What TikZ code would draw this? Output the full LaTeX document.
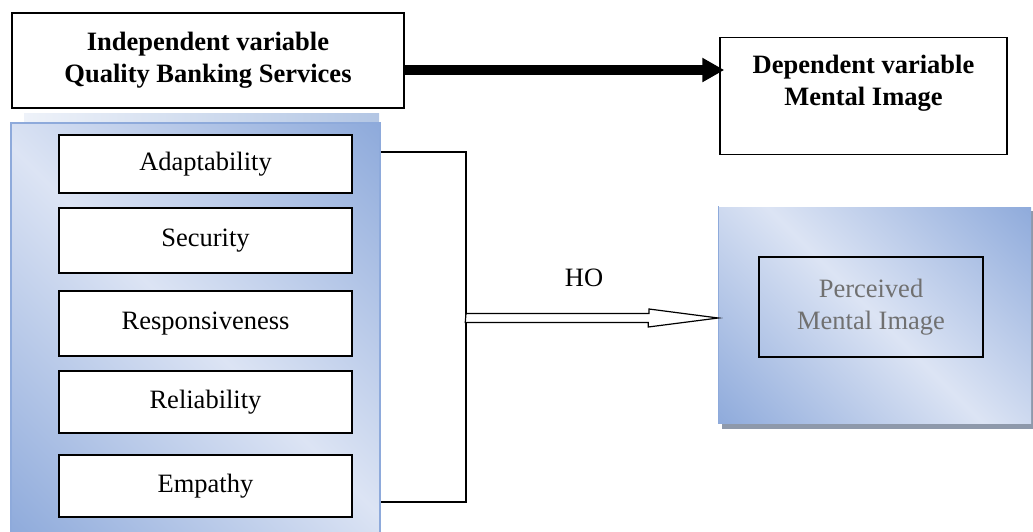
\documentclass[tikz,border=0pt]{standalone}
\usepackage{fontspec}
\setmainfont{Liberation Serif}
\usetikzlibrary{arrows.meta,positioning,calc}
\definecolor{panelDark}{HTML}{8EAADB}
\definecolor{panelLight}{HTML}{DCE4F4}
\definecolor{stripLight}{HTML}{EEF2F9}
\definecolor{stripDark}{HTML}{B3C6E4}
\definecolor{shadowGray}{HTML}{8E99AB}
\definecolor{fadedText}{HTML}{707070}

\begin{document}
\begin{tikzpicture}[
        x=1pt, y=-1pt,
        every node/.style={font=\fontsize{26.5}{32}\selectfont, inner sep=0pt},
        head/.style={draw, line width=1.5pt, fill=white, align=center},
        dim/.style={draw, line width=1.5pt, fill=white, minimum width=293pt},
        panel/.style={draw=panelDark, line width=1.5pt},
        sheen/.style={top color=panelDark, bottom color=panelDark, middle color=panelLight, shading angle=-45},
    ]
        \useasboundingbox (0,0) rectangle (1033,531);

        % --- Shaded background panels ---
        \shade[left color=stripLight, right color=stripDark] (24,113) rectangle (379,123);
        \begin{scope}
            \clip (11,123) rectangle (380,540);
            \shade[sheen] (195.5,331) ++(-278,-278) rectangle ++(556,556);
        \end{scope}
        \node[panel, minimum width=369pt, minimum height=420pt] (dimpanel) at (195.5,333) {};

        \fill[shadowGray] (722,211) rectangle (1034,429);
        \begin{scope}
            \clip (719,207) rectangle (1031,423);
            \shade[sheen] (875,315) ++(-190,-190) rectangle ++(380,380);
        \end{scope}
        \node[panel, draw=none, minimum width=312pt, minimum height=216pt] (percpanel) at (875,315) {};
        \draw[panelDark, line width=1.5pt] (percpanel.north west) -- (percpanel.south west);

        % --- Variable boxes ---
        \node[head, minimum width=392pt, minimum height=95pt, font=\fontsize{26.5}{32}\selectfont\bfseries]
              (indep) at (208,60.5) {Independent variable\\Quality Banking Services};
        \node[head, minimum width=287pt, minimum height=117pt] (dep) at (863.5,96) {};
        \node[align=center, font=\fontsize{26.5}{32}\selectfont\bfseries]
              (deptext) at ([yshift=13pt]dep.center) {Dependent variable\\Mental Image};

        % --- Dimensions ---
        \node[dim, minimum height=58pt] (adapt)  at (205.5,164)   {Adaptability};
        \node[dim, minimum height=65pt] (secur)  at (205.5,240.5) {Security};
        \node[dim, minimum height=65pt] (respon) at (205.5,323.5) {Responsiveness};
        \node[dim, minimum height=62pt] (reliab) at (205.5,402)   {Reliability};
        \node[dim, minimum height=62pt] (empat)  at (205.5,486)   {Empathy};

        % --- Perceived image ---
        \node[draw, line width=1.5pt, minimum width=224pt, minimum height=100pt, text=fadedText, align=center]
              (perc) at (871,307) {Perceived\\Mental Image};

        % --- Arrows ---
        \coordinate (arr) at ([yshift=-9.5pt]indep.east);
        \draw[line width=10pt, -{Triangle[length=22pt,width=23pt]}] (arr) -- ([xshift=5pt]dep.west |- arr);

        \coordinate (brtop) at (466,152);
        \coordinate (brbot) at (466,502);
        \draw[line width=1.5pt] (dimpanel.east |- brtop) -- (brtop) -- (brbot) -- (dimpanel.east |- brbot);

        \coordinate (hobase) at (466,318);
        \draw[line width=1.2pt, fill=white] (hobase) ++(0,-4.5) -- ++(183,0) -- ++(0,-4.5)
              -- (percpanel.west |- hobase) -- ++(-70,9) -- ++(0,-4.5) -- ++(-183,0) -- cycle;
        \node (ho) at (584,278) {HO};

    \end{tikzpicture}
\end{document}
